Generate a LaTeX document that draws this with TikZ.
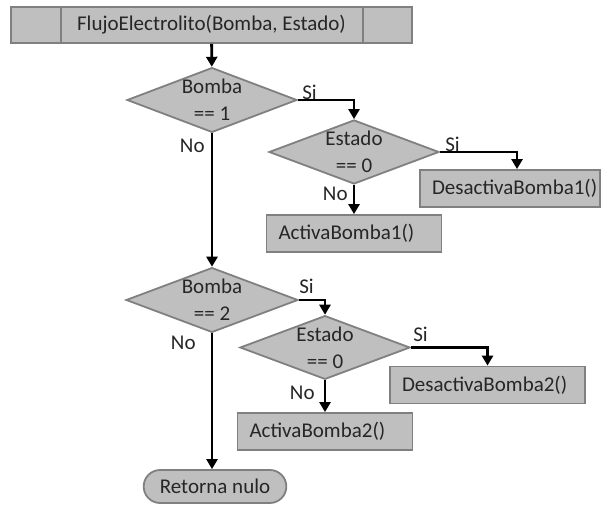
\documentclass[tikz,border=0pt]{standalone}
\usepackage{fontspec}
\setmainfont{Carlito}
\usetikzlibrary{arrows.meta,positioning,shapes.geometric,shapes.misc}

\begin{document}
\begin{tikzpicture}[
  x=0.5pt, y=-0.5pt,
  every node/.style={align=center, font=\fontsize{10.5}{13.5}\selectfont, text=black!85},
  header/.style={rectangle, draw=gray, line width=0.9pt, fill=gray!50, minimum width=200.5pt, minimum height=18pt},
  decision/.style={diamond, aspect=2.6, inner sep=0pt, draw=gray, line width=0.9pt, fill=gray!50, minimum width=85pt, minimum height=32pt},
  action/.style={rectangle, draw=gray, line width=0.9pt, fill=gray!50, minimum height=18.5pt, inner xsep=6pt, align=left},
  ending/.style={rounded rectangle, draw=gray, line width=0.9pt, fill=gray!50, minimum width=78pt, minimum height=16.5pt},
  tag/.style={inner sep=0pt},
  arrow/.style={-{Triangle[length=5pt, width=5.5pt]}, line width=1.4pt}
]
\useasboundingbox (0,0) rectangle (603,506);

% --- FUNCTION HEADER ---
\node[header] (fn) at (211.5,25) {FlujoElectrolito(Bomba, Estado)};
\draw[draw=gray, line width=0.9pt] ([xshift=25.5pt]fn.north west) -- ([xshift=25.5pt]fn.south west);
\draw[draw=gray, line width=0.9pt] ([xshift=-25pt]fn.north east) -- ([xshift=-25pt]fn.south east);

% --- PUMP 1 ---
\node[decision] (dec1) at (212,100) {Bomba\\== 1};
\node[decision] (dec2) at (354,152) {Estado\\== 0};
\node[action, text width=78pt] (desact1) at (510,188.5) {DesactivaBomba1()};
\node[action, text width=75.5pt] (act1) at (354,233.5) {ActivaBomba1()};

\draw[arrow] (fn) -- (dec1);
\draw[arrow] (dec1.east) -| (dec2.north);
\draw[arrow] (dec2.east) -| ([xshift=3.5pt]desact1.north);
\draw[arrow] (dec2) -- (act1);

\node[tag, above right=0pt and 2pt of dec1.east] (si1) {Si};
\node[tag, above right=0pt and 2.5pt of dec2.east] (si2) {Si};
\node[tag, below left=2.5pt and 3.5pt of dec1.south] (no1) {No};
\node[tag, below left=1pt and 3pt of dec2.south] (no2) {No};

% --- PUMP 2 ---
\node[decision, minimum height=30pt, minimum width=86pt] (dec3) at (212,300) {Bomba\\== 2};
\node[decision, minimum height=30.5pt] (dec4) at (325,347.5) {Estado\\== 0};
\node[action, text width=85.5pt] (desact2) at (487.5,385) {DesactivaBomba2()};
\node[action, text width=75.5pt] (act2) at (325,431.5) {ActivaBomba2()};

\draw[arrow] (dec1) -- (dec3);
\draw[arrow] (dec3.east) -| (dec4.north);
\draw[arrow] (dec4.east) -| (desact2.north);
\draw[arrow] (dec4) -- (act2);

\node[tag, above right=3pt and 0pt of dec3.east] (si3) {Si};
\node[tag, above right=2.5pt and 1pt of dec4.east] (si4) {Si};
\node[tag, below left=1pt and 8pt of dec3.south] (no3) {No};
\node[tag, below left=2.5pt and 5pt of dec4.south] (no4) {No};

% --- RETURN ---
\node[ending] (fin) at (215,486.5) {Retorna nulo};
\draw[arrow] (dec3.south) -- (dec3.south |- fin.north);

\end{tikzpicture}
\end{document}
